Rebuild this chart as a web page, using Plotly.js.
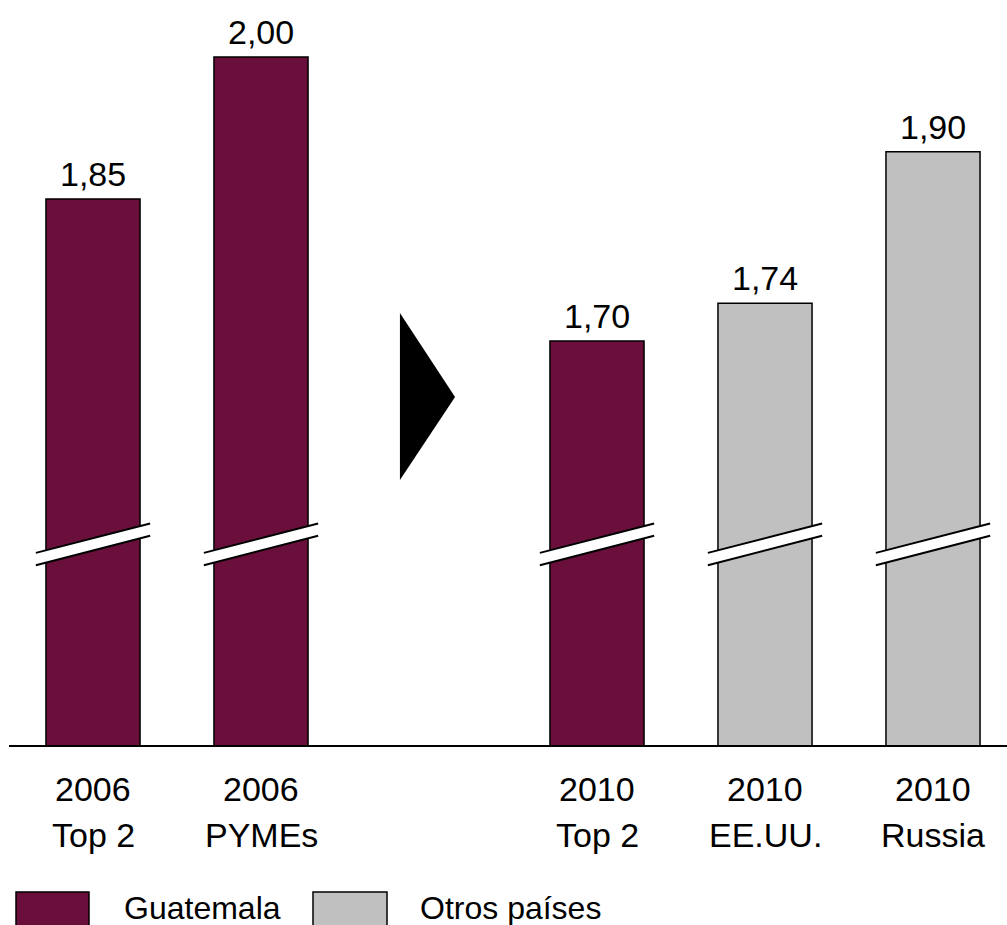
<!DOCTYPE html>
<html>
<head>
<meta charset="utf-8">
<script src="https://cdn.plot.ly/plotly-3.0.1.min.js"></script>
<style>html,body{margin:0;padding:0;background:#fff;}#chart{width:1007px;height:925px;}</style>
</head>
<body>
<div id="chart"></div>
<script>
// Data
const yearLabels = ['2006', '2006', '', '2010', '2010', '2010'];
const nameLabels = ['Top 2', 'PYMEs', '', 'Top 2', 'EE.UU.', 'Russia'];
const values = [1.85, 2.00, null, 1.70, 1.74, 1.90];
const groups = ['Guatemala', 'Guatemala', '', 'Guatemala', 'Otros países', 'Otros países'];
const legendNames = ['Guatemala', 'Otros países'];
const colors = {'Guatemala': '#6A0F3C', 'Otros países': '#C0C0C0'};

const FONT = 'Liberation Sans, Arial, sans-serif';
const W = 1007, H = 925;
const mL = 9, mR = 0, mT = 10, mB = 180;
const slot = 168;
const plotW = W - mL - mR, plotH = H - mT - mB;
const xRange = [-0.5, -0.5 + plotW / slot];
const pxPerUnit = 946.7;
const yMin = 1.70 - (745 - 341) / pxPerUnit;
const yRange = [yMin, yMin + plotH / pxPerUnit];

const traces = legendNames.map(g => {
  const xs = [], ys = [];
  values.forEach((v, i) => { if (groups[i] === g) { xs.push(i); ys.push(v); } });
  return {
    type: 'bar', x: xs, y: ys, name: g, width: 0.56,
    marker: {color: colors[g], line: {color: '#000', width: 1.5}},
    showlegend: false, hoverinfo: 'none'
  };
});

const annotations = [];
const shapes = [];
values.forEach((v, i) => {
  if (v === null) return;
  annotations.push({
    x: i, y: v, xref: 'x', yref: 'y', text: v.toFixed(2).replace('.', ','),
    showarrow: false, yanchor: 'bottom', yshift: 4,
    font: {family: FONT, size: 34, color: '#000'}
  });
  // axis break marks
  const c = 1.4917, d = 0.0155, g = 0.013, hw = 0.34;
  shapes.push({type: 'path', xref: 'x', yref: 'y',
    path: `M ${i-hw} ${c-d} L ${i+hw} ${c+d} L ${i+hw} ${c+d-g} L ${i-hw} ${c-d-g} Z`,
    fillcolor: '#fff', line: {width: 0}});
  shapes.push({type: 'line', xref: 'x', yref: 'y', x0: i-hw, y0: c-d, x1: i+hw, y1: c+d, line: {color: '#000', width: 2}});
  shapes.push({type: 'line', xref: 'x', yref: 'y', x0: i-hw, y0: c-d-g, x1: i+hw, y1: c+d-g, line: {color: '#000', width: 2}});
});

// category labels (two lines)
yearLabels.forEach((t, i) => {
  if (!t) return;
  annotations.push({x: i, xref: 'x', y: (745 - 789) / plotH, yref: 'paper', text: t,
    showarrow: false, yanchor: 'middle', font: {family: FONT, size: 34, color: '#000'}});
  annotations.push({x: i, xref: 'x', y: (745 - 835) / plotH, yref: 'paper', text: nameLabels[i],
    showarrow: false, yanchor: 'middle', font: {family: FONT, size: 34, color: '#000'}});
});

// arrow triangle in the gap
shapes.push({type: 'path', xref: 'x', yref: 'y',
  path: `M 1.827 1.7296 L 2.155 1.6408 L 1.827 1.5532 Z`,
  fillcolor: '#000', line: {width: 0}});

// legend
const px2x = p => (p - mL) / plotW;
const py2y = p => (745 - p) / plotH;
const legBoxes = [[16, 89], [313, 387]];
const legText = [122, 418];
legendNames.forEach((g, k) => {
  shapes.push({type: 'rect', xref: 'paper', yref: 'paper',
    x0: px2x(legBoxes[k][0]), x1: px2x(legBoxes[k][1]), y0: py2y(892), y1: py2y(940),
    fillcolor: colors[g], line: {color: '#000', width: 1.5}});
  annotations.push({x: px2x(legText[k]), xref: 'paper', y: py2y(908), yref: 'paper',
    text: g, showarrow: false, xanchor: 'left', yanchor: 'middle',
    font: {family: FONT, size: 32, color: '#000'}});
});

const layout = {
  width: W, height: H,
  margin: {l: mL, r: mR, t: mT, b: mB, pad: 0},
  paper_bgcolor: '#fff', plot_bgcolor: '#fff',
  barmode: 'overlay',
  xaxis: {range: xRange, showgrid: false, zeroline: false, showticklabels: false, ticks: '',
    showline: true, linecolor: '#000', linewidth: 2, fixedrange: true},
  yaxis: {range: yRange, showgrid: false, zeroline: false, showticklabels: false, ticks: '',
    showline: false, fixedrange: true},
  annotations: annotations,
  shapes: shapes,
  showlegend: false
};

Plotly.newPlot('chart', traces, layout, {displayModeBar: false, staticPlot: true});
</script>
</body>
</html>
